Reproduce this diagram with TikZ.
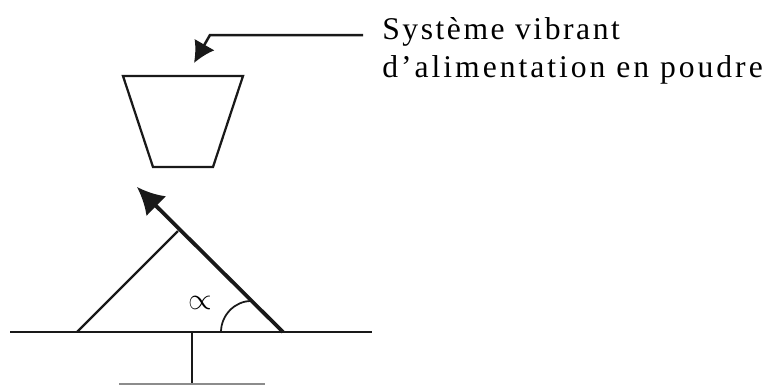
\documentclass[tikz,border=0pt]{standalone}
\usepackage{fontspec}
\setmainfont{Liberation Serif}
\newfontfamily\labelfont[LetterSpace=8]{Liberation Serif}
\newfontfamily\widefont[LetterSpace=9.4]{Liberation Serif}
\usetikzlibrary{arrows.meta}
\begin{document}
\begin{tikzpicture}[
    thinline/.style={line width=0.045cm, black!90},
    thickline/.style={line width=0.05cm, black!90},
    leader/.style={line width=0.05cm, black!90, -{Latex[length=0.42cm, width=0.46cm]}},
    tilt/.style={line width=0.075cm, black!90, -{Latex[length=0.54cm, width=0.56cm]}},
    desc/.style={font=\fontsize{18}{21.5}\selectfont, anchor=west, align=left, inner sep=0pt}
]
    \useasboundingbox (0, 0) rectangle (15.28, -7.7);

    % Tremie
    \coordinate (hopperTL) at (2.46, -1.52);
    \coordinate (hopperTR) at (4.86, -1.52);
    \coordinate (hopperBR) at (4.26, -3.34);
    \coordinate (hopperBL) at (3.06, -3.34);
    \draw[thinline, line join=miter] (hopperTL) -- (hopperTR) -- (hopperBR) -- (hopperBL) -- cycle;

    % Etiquette et renvoi
    \node[desc] (label) at (7.64, -1.02) {{\labelfont Système vibrant}\\{\widefont d’alimentation en poudre}};
    \coordinate (leaderStart) at (7.26, -0.7);
    \coordinate (leaderBend) at (4.2, -0.7);
    \coordinate (leaderTip) at (3.88, -1.26);
    \draw[leader] (leaderStart) -- (leaderBend) -- (leaderTip);

    % Plan incline
    \coordinate (planeL) at (0.2, -6.64);
    \coordinate (planeR) at (7.44, -6.64);
    \coordinate (footL) at (1.54, -6.64);
    \coordinate (footR) at (5.66, -6.64);
    \coordinate (arrowTip) at (2.74, -3.74);
    \coordinate (strutTop) at (3.56, -4.62);
    \draw[thickline] (planeL) -- (planeR);
    \draw[tilt] (footR) -- (arrowTip);
    \draw[thinline] (footL) -- (strutTop);

    % Angle
    \coordinate (arcStart) at (4.42, -6.64);
    \coordinate (arcEnd) at (5.02, -6.02);
    \draw[line width=0.035cm, black!90] (arcStart) .. controls (4.42, -6.3) and (4.7, -6.02) .. (arcEnd);
    \node[font=\LARGE, inner sep=0pt] (angle) at (4.01, -6.05) {$\propto$};

    % Support
    \coordinate (standTop) at (3.84, -6.64);
    \coordinate (standBot) at (3.84, -7.7);
    \coordinate (baseL) at (2.38, -7.68);
    \coordinate (baseR) at (5.3, -7.68);
    \draw[thinline] (standTop) -- (standBot);
    \draw[thinline, black!45] (baseL) -- (baseR);
\end{tikzpicture}
\end{document}
